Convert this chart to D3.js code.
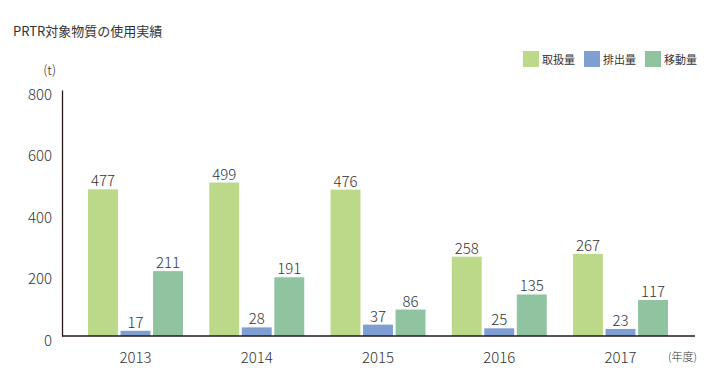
<!DOCTYPE html>
<html>
<head>
<meta charset="utf-8">
<script src="https://cdn.jsdelivr.net/npm/d3@7"></script>
<style>
  body { margin: 0; background: #fff; }
  text { font-family: "Noto Sans CJK JP", "Noto Sans", sans-serif; fill: #333; }
</style>
</head>
<body>
<div id="chart"></div>
<script>
// Data
const years = ["2013", "2014", "2015", "2016", "2017"];
const seriesNames = ["取扱量", "排出量", "移動量"];
const handled = [477, 499, 476, 258, 267];
const released = [17, 28, 37, 25, 23];
const transferred = [211, 191, 86, 135, 117];
const yTicks = [0, 200, 400, 600, 800];
const colors = ["#bcd98a", "#7f9ed2", "#90c3a0"];

const series = [handled, released, transferred];

// Set up the SVG container
const svg = d3.select("#chart")
  .append("svg")
  .attr("width", 718)
  .attr("height", 388);

// Scales
const x = d3.scaleBand()
  .domain(years)
  .range([88, 668])
  .paddingInner(0.2165)
  .paddingOuter(0);

const xSub = d3.scaleBand()
  .domain(d3.range(seriesNames.length))
  .range([0, x.bandwidth()])
  .paddingInner(0.08);

const y = d3.scaleLinear()
  .domain([0, 800])
  .range([336, 90]);

// Title
svg.append("text")
  .attr("x", 13)
  .attr("y", 36)
  .style("font-size", "13px")
  .text("PRTR対象物質の使用実績");

// Unit
svg.append("text")
  .attr("x", 56)
  .attr("y", 75)
  .attr("text-anchor", "end")
  .style("font-size", "13px")
  .style("font-weight", 300)
  .text("(t)");

// Y axis
const yAxis = svg.append("g")
  .attr("transform", "translate(62,0)")
  .call(d3.axisLeft(y).tickValues(yTicks).tickSizeInner(0).tickSizeOuter(0).tickPadding(10));
yAxis.select(".domain").attr("stroke", "#231815").attr("stroke-width", 1.3);
yAxis.selectAll("text")
  .attr("dy", "0.6em")
  .style("font-size", "15px")
  .style("font-weight", 300)
  .style("font-family", "\"Noto Sans CJK JP\", sans-serif")
  .style("fill", "#333");

// Bars
const groups = svg.selectAll(".year")
  .data(years)
  .enter()
  .append("g")
  .attr("class", "year")
  .attr("transform", function (d) { return "translate(" + x(d) + ",0)"; });

groups.selectAll("rect")
  .data(function (d, i) { return series.map(function (s, k) { return { k: k, v: s[i] }; }); })
  .enter()
  .append("rect")
  .attr("x", function (d) { return xSub(d.k); })
  .attr("y", function (d) { return y(d.v); })
  .attr("width", xSub.bandwidth())
  .attr("height", function (d) { return y(0) - y(d.v); })
  .style("fill", function (d) { return colors[d.k]; });

groups.selectAll(".value")
  .data(function (d, i) { return series.map(function (s, k) { return { k: k, v: s[i] }; }); })
  .enter()
  .append("text")
  .attr("class", "value")
  .attr("x", function (d) { return xSub(d.k) + xSub.bandwidth() / 2; })
  .attr("y", function (d) { return y(d.v) - 3; })
  .attr("text-anchor", "middle")
  .style("font-size", "15px")
  .style("font-weight", 300)
  .text(function (d) { return d.v; });

// X axis baseline
svg.append("line")
  .attr("x1", 62)
  .attr("x2", 695)
  .attr("y1", y(0))
  .attr("y2", y(0))
  .attr("stroke", "#231815")
  .attr("stroke-width", 1.3);

const xAxis = svg.append("g")
  .attr("transform", "translate(0," + y(0) + ")")
  .call(d3.axisBottom(x).tickSize(0).tickPadding(16));
xAxis.select(".domain").remove();
xAxis.selectAll("text")
  .style("font-size", "15px")
  .style("font-weight", 300)
  .style("font-family", "\"Noto Sans CJK JP\", sans-serif")
  .style("fill", "#333");

svg.append("text")
  .attr("x", 697)
  .attr("y", 361)
  .attr("text-anchor", "end")
  .style("font-size", "11px")
  .style("font-weight", 300)
  .text("(年度)");

// Legend
const legendX = [523, 584, 645];
const legend = svg.selectAll(".legend-item")
  .data(seriesNames)
  .enter()
  .append("g")
  .attr("class", "legend-item")
  .attr("transform", function (d, i) { return "translate(" + legendX[i] + ",51)"; });

legend.append("rect")
  .attr("width", 16)
  .attr("height", 16)
  .style("fill", function (d, i) { return colors[i]; });

legend.append("text")
  .attr("x", 19)
  .attr("y", 12.5)
  .style("font-size", "11px")
  .text(function (d) { return d; });
</script>
</body>
</html>
